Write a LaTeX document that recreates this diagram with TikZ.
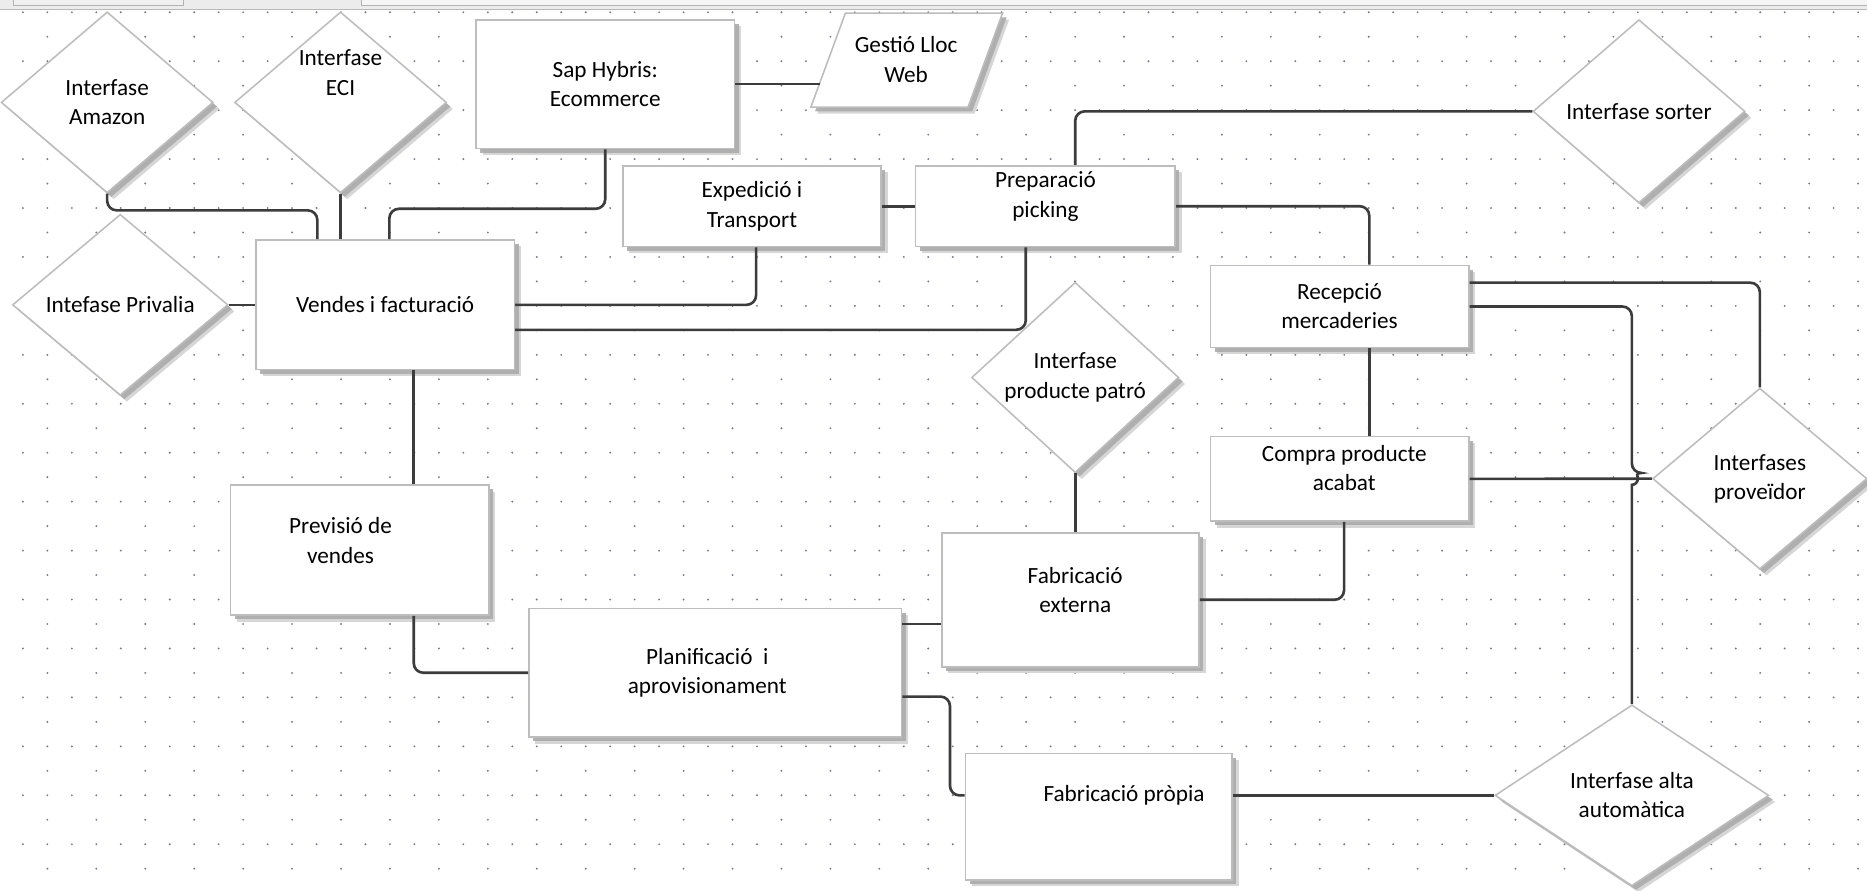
\documentclass[tikz,border=0pt]{standalone}
\usepackage{fontspec}
\setmainfont{Carlito}
\usepackage{tikz}
\usetikzlibrary{shapes.geometric,shadows}

\definecolor{wirecol}{HTML}{3C3C3C}
\definecolor{boxline}{HTML}{BDBDBD}
\definecolor{shadowsoft}{HTML}{D6D6D6}
\definecolor{shadowgray}{HTML}{ABABAB}
\definecolor{dotcol}{HTML}{7A7A8C}
\definecolor{barfill}{HTML}{ECECEC}

\newcommand{\lblfont}{\fontsize{19.5}{24.5}\selectfont}

\tikzset{
  soft shade/.style={
    drop shadow={shadow xshift=5.5pt, shadow yshift=-5.5pt, fill=shadowsoft, opacity=1},
    drop shadow={shadow xshift=3.5pt, shadow yshift=-3.5pt, fill=shadowgray, opacity=.9}},
  box/.style={draw=boxline, line width=1.3pt, fill=white, inner sep=0pt,
    minimum width=217pt, minimum height=109pt, align=center, font=\lblfont, soft shade},
  lowbox/.style={box, minimum height=68pt},
  choice/.style={diamond, draw=boxline, line width=1.3pt, fill=white, inner sep=0pt,
    minimum width=178pt, minimum height=152pt, align=center, font=\lblfont, soft shade},
  webdoc/.style={draw=boxline, line width=1.3pt, fill=white, soft shade},
  txt/.style={align=center, font=\lblfont, inner sep=0pt},
  wire/.style={draw=wirecol, line width=2.2pt, rounded corners=8pt}
}

\begin{document}
\begin{tikzpicture}[x=1pt, y=-1pt]
\useasboundingbox (0,0) rectangle (1568,748);
\fill[white] (0,0) rectangle (1568,748);

% dotted grid of the drawing sheet
\foreach \j in {0,...,17} {
  \foreach \i in {0,...,76}
    \fill[dotcol] ({-1.3+20.55*\i},{10.3+41.1*\j}) circle[radius=0.9pt];
  \foreach \i in {0,...,38}
    \fill[dotcol] ({-1.3+41.1*\i},{30.85+41.1*\j}) circle[radius=0.9pt];
}

% sales side
\node[choice] (amz) at (90,86) {Interfase\\Amazon};
\node[choice] (eci) at (286,86) {};
\node[txt] (eci-t) at (286,61) {Interfase\\ECI};
\node[choice, minimum width=181pt] (priv) at (101,256) {Intefase Privalia};
\node[box] (vendes) at (323.5,256) {Vendes i facturació};
\node[box, minimum height=108pt] (sap) at (508.3,70.7) {Sap Hybris:\\Ecommerce};

% web page data (parallelogram)
\path[webdoc] (681,90) -- (710,11) -- (842,11) -- (813,90) -- cycle;
\node[txt] (gest) at (761,50) {Gestió Lloc\\Web};
\coordinate (gest-in) at (688.5,70.7);

% logistics
\node[lowbox] (exp) at (631.5,173.2) {Expedició i\\Transport};
\node[lowbox, minimum width=218pt] (prep) at (878,173.2) {};
\node[txt] (prep-t) at (878,165) {Preparació\\picking};
\node[choice, minimum height=154pt] (sort) at (1376.5,93.5) {Interfase sorter};
\node[lowbox, minimum height=69pt] (rec) at (1125,257.4) {Recepció\\mercaderies};
\node[lowbox, minimum height=71pt] (com) at (1125,402.2) {};
\node[txt] (com-t) at (1129,393) {Compra producte\\acabat};
\node[choice, minimum width=180pt] (prov) at (1478,402) {Interfases\\proveïdor};

% planning and production
\node[choice, minimum width=174pt, minimum height=150pt] (pat) at (903,317) {Interfase\\producte patró};
\node[box, minimum width=216pt, minimum height=112.6pt] (fabe) at (899,503.7) {};
\node[txt] (fabe-t) at (903,495.5) {Fabricació\\externa};
\node[box] (prev) at (302,462) {};
\node[txt] (prev-t) at (286,454) {Previsió de\\vendes};
\node[box, minimum width=313pt, minimum height=108pt] (plan) at (600.7,565) {};
\node[txt] (plan-t) at (594,565) {Planificació~ i\\aprovisionament};
\node[box, minimum width=224pt, minimum height=106pt] (fabp) at (922.8,686) {};
\node[txt] (fabp-t) at (944,668) {Fabricació pròpia};
\node[choice, minimum width=230pt] (alta) at (1370.5,668) {Interfase alta\\automàtica};

% connections
\draw[wire] (amz.south) -- ++(0,14) -| ([xshift=-57pt]vendes.north);
\draw[wire] (eci.south) -- (vendes.north -| eci.south);
\draw[wire] (sap.south) -- ++(0,50) -| ([xshift=3.5pt]vendes.north);
\draw[wire] (sap.east) -- (gest-in);
\draw[wire] (priv.east) -- (vendes.west);
\draw[wire] (vendes.east) -| ([xshift=3.5pt]exp.south);
\draw[wire] ([yshift=-21pt]vendes.east) -| ([xshift=-16.5pt]prep.south);
\draw[wire] (exp.east) -- (prep.west);
\draw[wire] ([xshift=25pt]prep.north) |- (sort.west);
\draw[wire] (prep.east) -| ([xshift=25pt]rec.north);
\draw[wire] ([yshift=20pt]rec.east) -| (prov.north);
\draw[wire] ([xshift=25pt]rec.south) -- ([xshift=25pt]com.north);
\draw[wire] (com.east) -- (prov.west);
\draw[wire] (rec.east) -| ([yshift=5pt]alta.north |- com.east) [sharp corners]
  arc[start angle=-90, end angle=90, radius=5] -- (alta.north);
\draw[wire] ([xshift=3.8pt]com.south) |- (fabe.east);
\draw[wire] (pat.south) -- (pat.south |- fabe.north);
\draw[wire] ([xshift=24pt]vendes.south) -- ([xshift=24pt]vendes.south |- prev.north);
\draw[wire] ([xshift=45.5pt]prev.south) |- (plan.west);
\draw[wire] ([yshift=41pt]plan.east) -- ([yshift=41pt]plan.east -| fabe.west);
\draw[wire] ([yshift=-20pt]plan.east) -- ++(40,0) |- ([yshift=18pt]fabp.west);
\draw[wire] ([yshift=18pt]fabp.east) -- (alta.west);

% window bar at the top
\fill[barfill] (0,0) rectangle (1568,7.5);
\draw[gray!55, line width=1pt] (0,7.8) -- (1568,7.8);
\draw[gray!60, fill=gray!12, line width=0.8pt] (11,-2) rectangle (154,4.5);
\draw[gray!60, fill=gray!8, line width=0.8pt] (304,-2) rectangle (1572,4.5);
\end{tikzpicture}
\end{document}
